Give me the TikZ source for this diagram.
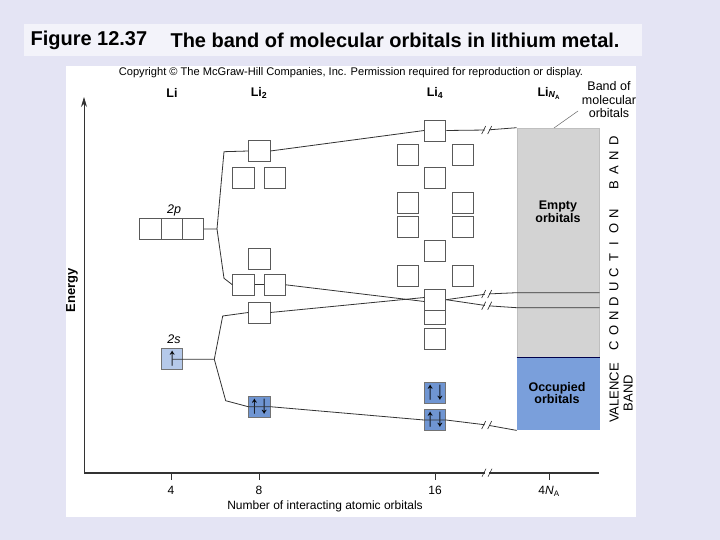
\documentclass[tikz,border=0pt]{standalone}
\usepackage{fontspec}
\usepackage{graphicx}
\setmainfont{Liberation Sans}
\usetikzlibrary{arrows.meta}
\definecolor{slidebg}{HTML}{E4E4F4}
\definecolor{titlebg}{HTML}{F3F3FA}
\definecolor{bandgray}{HTML}{D3D3D3}
\definecolor{bandblue}{HTML}{7A9FDB}
\definecolor{orbblue}{HTML}{6F95D2}
\definecolor{orblight}{HTML}{B5C9EA}
\definecolor{ink}{HTML}{333333}
\newcommand\spins[1]{\scalebox{1.3}[1.7]{#1}}
\tikzset{
  orb/.style={draw=black!65, fill=white, minimum width=21.3pt, minimum height=21pt, inner sep=0pt, line width=0.8pt},
  orbfull/.style={orb, fill=orbblue, draw=black!55, font=\fontsize{15}{15}\selectfont},
  orbhalf/.style={orb, fill=orblight, draw=black!55, font=\fontsize{15}{15}\selectfont},
  mo/.style={draw=ink, line width=0.8pt},
  hdr/.style={font=\fontsize{12.5}{14}\selectfont\bfseries},
  axlbl/.style={font=\fontsize{12}{14}\selectfont},
  sublbl/.style={font=\fontsize{12.5}{14}\selectfont\itshape},
  bandtxt/.style={font=\fontsize{12.5}{12.5}\selectfont\bfseries, align=center},
  sidetxt/.style={font=\fontsize{13}{14}\selectfont, rotate=90},
  titletxt/.style={font=\fontsize{20}{24}\selectfont\bfseries, anchor=west},
}

\begin{document}
\begin{tikzpicture}[x=1pt, y=-1pt]
  \fill[slidebg] (0,0) rectangle (720,540);
  \useasboundingbox (0,0) rectangle (720,540);
  \fill[titlebg] (24,24) rectangle (642,56);
  \node[titletxt] (fig) at (27,40) {Figure 12.37};
  \node[titletxt] (cap) at (167,40) {The band of molecular orbitals in lithium metal.};
  \fill[white] (66,66) rectangle (636,517);
  \node[font=\fontsize{11.1}{12}\selectfont] (copy) at (351,73) {Copyright \textcopyright{} The McGraw-Hill Companies, Inc. Permission required for reproduction or display.};

  % column headers
  \node[hdr] (hli) at (172,93) {Li};
  \node[hdr] (hli2) at (259,93) {Li\textsubscript{2}};
  \node[hdr] (hli4) at (435,93) {Li\textsubscript{4}};
  \node[hdr] (hlin) at (549,93) {Li\textsubscript{\textit{N}\textsubscript{A}}};

  % bands
  \node[fill=bandgray, draw=black!25, minimum width=82.6pt, minimum height=229.6pt, inner sep=0pt, anchor=north west] (cband) at (516.7,127.7) {};
  \node[fill=bandblue, minimum width=82.6pt, minimum height=72.7pt, inner sep=0pt, anchor=north west] (vband) at (516.7,357.3) {};
  \draw[draw=black!70!blue, line width=0.8pt] (vband.north west) -- (vband.north east);
  \node[bandtxt] (empty) at (558,212) {Empty\\orbitals};
  \node[bandtxt] (occ) at (557,393) {Occupied\\orbitals};
  \node[font=\fontsize{12.5}{13.5}\selectfont, align=center] (bmo) at (609,100) {Band of\\molecular\\orbitals};
  \draw[black!60, line width=0.5pt] (578,111) -- (554,128);

  % Li atom
  \node[orb] (p1) at (150.5,229) {};
  \node[orb] (p2) at (171.6,229) {};
  \node[orb] (p3) at (192.7,229) {};
  \node[sublbl] (l2p) at (174,210) {2\textit{p}};
  \node[orbhalf] (s1) at (172.2,359.2) {\spins{↑}};
  \node[sublbl] (l2s) at (174,339) {2\textit{s}};

  % Li2
  \node[orb] (a1) at (259.3,151) {};
  \node[orb] (a2) at (243.5,177.8) {};
  \node[orb] (a3) at (274.7,177.8) {};
  \node[orb] (a4) at (259.3,258.8) {};
  \node[orb] (a5) at (243.5,284.8) {};
  \node[orb] (a6) at (274.7,284.8) {};
  \node[orb] (a7) at (259.3,312.5) {};
  \node[orbfull] (a8) at (259.3,406.7) {\spins{↑↓}};

  % Li4
  \node[orb] (b1) at (435.2,130.5) {};
  \node[orb] (b2) at (407.8,154.5) {};
  \node[orb] (b3) at (462.8,154.5) {};
  \node[orb] (b4) at (435.2,177.8) {};
  \node[orb] (b5) at (407.8,203) {};
  \node[orb] (b6) at (462.8,203) {};
  \node[orb] (b7) at (407.8,227.2) {};
  \node[orb] (b8) at (462.8,227.2) {};
  \node[orb] (b9) at (435.2,251.2) {};
  \node[orb] (b10) at (407.8,275.5) {};
  \node[orb] (b11) at (462.8,275.5) {};
  \node[orb] (b12) at (435.2,299.7) {};
  \node[orb, minimum height=14.3pt] (b13) at (435.2,317.2) {};
  \node[orb] (b14) at (435.2,338.8) {};
  \node[orbfull] (b15) at (435,393) {\spins{↑↓}};
  \node[orbfull] (b16) at (435,420) {\spins{↑↓}};

  \coordinate (jp) at (217,229);
  \coordinate (js) at (214.3,359.3);
  \coordinate (kp1) at (224,151.7);
  \coordinate (kp2) at (224,278.3);
  \coordinate (ks1) at (222.7,316);
  \coordinate (ks2) at (225.7,400.7);
  \coordinate (m1) at (424.3,301.5);
  \coordinate (m2) at (424.3,297.5);
  \coordinate (k1) at (486.7,130);
  \coordinate (k2) at (486.7,294);
  \coordinate (k3) at (486.7,305.7);
  \coordinate (k4) at (486.7,425);
  \coordinate (k5) at (487,472.7);
  \coordinate (e2) at (516.7,292.7);
  \coordinate (e3) at (516.7,307.7);

  \draw[mo] (p3.east) -- (jp) -- (kp1) -- (a1.west);
  \draw[mo] (jp) -- (kp2) -- (a5.west);
  \draw[mo] (a5.east) -- (a6.west);
  \draw[mo] (a1.east) -- (b1.west);
  \draw[mo] (a6.east) -- (m1);
  \draw[mo] (s1.center) -- (js) -- (ks1) -- (a7.west);
  \draw[mo] (a7.east) -- (m2);
  \draw[mo] (js) -- (ks2) -- (a8.west) -- (a8.east) -- (b16.west) -- (b16.east) -- (k4) -- (vband.south west);
  \draw[mo] (b1.east) -- (k1) -- (cband.north west);
  \draw[mo] (b12.east) -- (k2) -- (e2) -- (e2 -| cband.east);
  \draw[mo] (b12.east) -- (k3) -- (e3) -- (e3 -| cband.east);

  % axes
  \coordinate (org) at (84,472.7);
  \draw[mo, -{Stealth[length=10pt,width=6pt]}] (org) -- (84,97);
  \draw[draw=ink, line width=1.6pt] (org) -- (599.3,472.7);
  \node[font=\fontsize{13}{14}\selectfont\bfseries, rotate=90] (en) at (72,290) {Energy};
  \foreach \x/\t [count=\i] in {171/4, 259/8, 435/16, 549/{4\textit{N}\textsubscript{A}}} {
    \draw[mo] (\x,474) -- (\x,480);
    \node[axlbl, anchor=base] (t\i) at (\x,494.5) {\t};
  }
  \node[axlbl] (xt) at (325,506) {Number of interacting atomic orbitals};

  \foreach \c in {k1,k2,k3,k4,k5} {
    \draw[white, line width=2.5pt] ([xshift=-2pt]\c) -- ([xshift=2pt]\c);
    \draw[mo, line width=0.6pt] ([xshift=-5pt,yshift=-4pt]\c) -- ([xshift=-1pt,yshift=4pt]\c)
      ([xshift=1pt,yshift=-4pt]\c) -- ([xshift=5pt,yshift=4pt]\c);
  }

  % side labels
  \foreach \ch [count=\i] in {C,O,N,D,U,C,T,I,O,N,{},B,A,N,D}
    \node[sidetxt] (cb\i) at (614,360-\i*14.6) {\ch};
  \node[sidetxt, align=center] (vb) at (621,393) {VALENCE\\BAND};
\end{tikzpicture}
\end{document}
